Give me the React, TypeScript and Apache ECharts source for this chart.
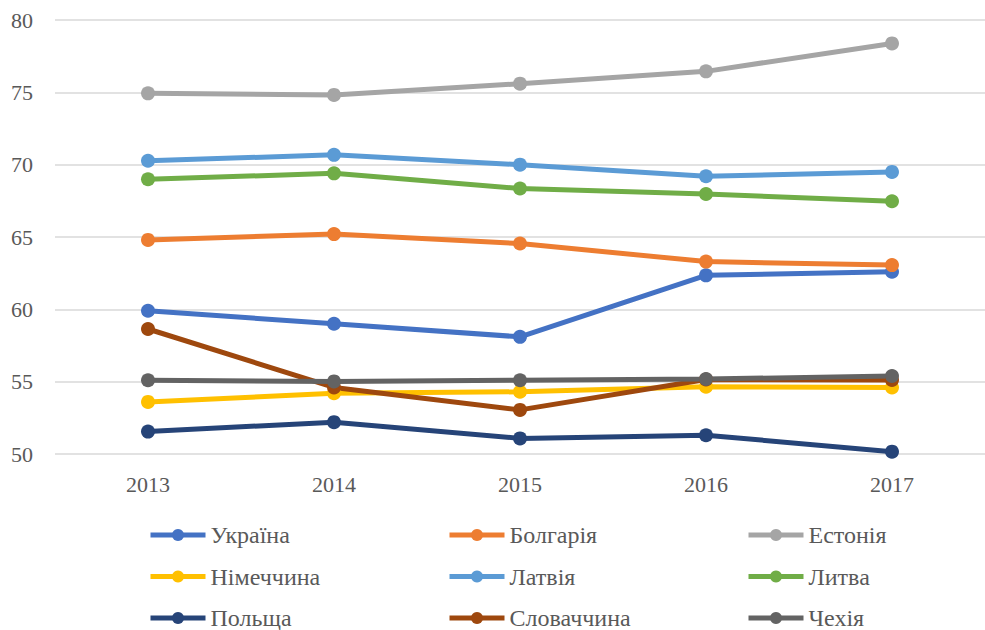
import React, { useEffect, useRef } from "react";
import * as echarts from "echarts";

const years = ["2013", "2014", "2015", "2016", "2017"];

const ukraine = [59.9, 59.0, 58.1, 62.35, 62.6];
const bulgaria = [64.8, 65.2, 64.55, 63.3, 63.06];
const estonia = [74.93, 74.82, 75.6, 76.45, 78.38];
const germany = [53.6, 54.2, 54.3, 54.65, 54.6];
const latvia = [70.27, 70.68, 70.0, 69.2, 69.5];
const lithuania = [68.99, 69.4, 68.35, 67.97, 67.47];
const poland = [51.55, 52.2, 51.08, 51.3, 50.16];
const slovakia = [58.64, 54.6, 53.05, 55.15, 55.12];
const czech = [55.1, 55.02, 55.1, 55.18, 55.39];

const seriesNames = [
  "Україна", "Болгарія", "Естонія",
  "Німеччина", "Латвія", "Литва",
  "Польща", "Словаччина", "Чехія",
];
const seriesData = [ukraine, bulgaria, estonia, germany, latvia, lithuania, poland, slovakia, czech];
const colors = [
  "#4472C4", "#ED7D31", "#A5A5A5",
  "#FFC000", "#5B9BD5", "#70AD47",
  "#264478", "#9E480E", "#636363",
];

const yMin = 50;
const yMax = 80;
const yInterval = 5;

export default function App() {
  const ref = useRef<HTMLDivElement>(null);
  useEffect(() => {
    if (!ref.current) return;
    const chart = echarts.init(ref.current, undefined, { renderer: "svg" });
    const font = "Liberation Serif";
    const textColor = "#595959";
    const legendCols = [0, 1, 2].map((c) => ({
      orient: "vertical" as const,
      left: 148 + c * 299,
      top: 523,
      height: 130,
      itemGap: 17.5,
      itemWidth: 55,
      itemHeight: 15,
      padding: 0,
      lineStyle: { width: 5 },
      data: [seriesNames[c], seriesNames[c + 3], seriesNames[c + 6]],
      textStyle: { fontFamily: font, fontSize: 24, color: textColor, lineHeight: 22 },
    }));
    chart.setOption({
      animation: false,
      color: colors,
      textStyle: { fontFamily: font },
      grid: { left: 55, right: -13.5, top: 20, bottom: 176, containLabel: false },
      legend: legendCols,
      xAxis: {
        type: "category",
        data: years,
        boundaryGap: true,
        axisLine: { show: false },
        axisTick: { show: false },
        axisLabel: { fontFamily: font, fontSize: 22, color: textColor, margin: 19 },
      },
      yAxis: {
        type: "value",
        min: yMin,
        max: yMax,
        interval: yInterval,
        axisLine: { show: false },
        axisTick: { show: false },
        axisLabel: { fontFamily: font, fontSize: 22, color: textColor, margin: 22 },
        splitLine: { lineStyle: { color: "#D9D9D9", width: 1.5 } },
      },
      series: seriesNames.map((name, i) => ({
        name,
        type: "line",
        data: seriesData[i],
        symbol: "circle",
        symbolSize: 14,
        lineStyle: { width: 5, color: colors[i] },
        itemStyle: { color: colors[i] },
      })),
    });
    return () => chart.dispose();
  }, []);
  return (
    <div
      ref={ref}
      style={{ position: "absolute", left: 0, top: 0, width: 985, height: 630, background: "#fff" }}
    />
  );
}
